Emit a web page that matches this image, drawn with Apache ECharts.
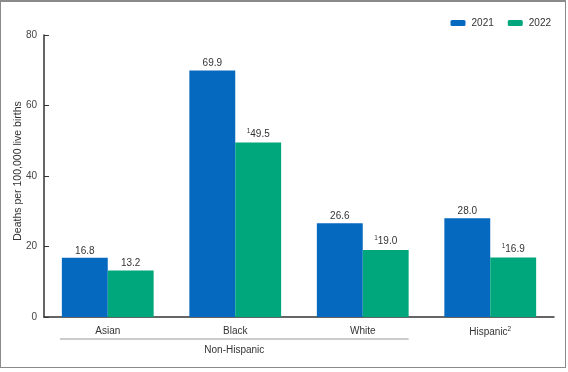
<!DOCTYPE html>
<html><head><meta charset="utf-8">
<script src="https://cdn.jsdelivr.net/npm/echarts@6/dist/echarts.min.js"></script>
<style>
html,body{margin:0;padding:0;background:#fff;}
#c{position:absolute;left:0;top:0;width:568px;height:372px;}
#frame{position:absolute;left:0;top:0;width:564px;height:365px;border:1px solid #8a8a8a;border-top:2px solid #8a8a8a;pointer-events:none;}
</style></head>
<body>
<div id="c"></div>
<div id="frame"></div>
<script>
const categories = ['Asian', 'Black', 'White', 'Hispanic'];
const values2021 = [16.8, 69.9, 26.6, 28.0];
const values2022 = [13.2, 49.5, 19.0, 16.9];
const flagged2022 = [false, true, true, true];
const yTicks = [0, 20, 40, 60, 80];
const groupLabel = 'Non-Hispanic';
const groupMembers = ['Asian', 'Black', 'White'];

const FONT = '"Liberation Sans", Arial, sans-serif';
const chart = echarts.init(document.getElementById('c'));
const option = {
  animation: false,
  textStyle: { fontFamily: FONT },
  legend: {
    right: 12, top: 13,
    itemWidth: 15, itemHeight: 6, itemGap: 14,
    textStyle: { fontSize: 10, color: '#333', fontFamily: FONT, padding: [0,0,0,1] },
    data: ['2021', '2022']
  },
  grid: { left: 44, right: 14, top: 35, bottom: 55 },
  xAxis: {
    type: 'category', data: categories,
    axisLine: { lineStyle: { color: '#333', width: 1.5 } },
    axisTick: { show: false },
    axisLabel: {
      fontSize: 10, color: '#333', margin: 9,
      formatter: v => v === 'Hispanic' ? v + '{sup|2}' : v,
      rich: { sup: { fontSize: 6.5, verticalAlign: 'top', padding: [0,0,6,0], color: '#333' } }
    }
  },
  yAxis: {
    type: 'value', min: yTicks[0], max: yTicks[yTicks.length-1], interval: 20,
    name: 'Deaths per 100,000 live births', nameLocation: 'middle', nameGap: 20,
    nameMoveOverlap: false,
    nameTextStyle: { fontSize: 10.5, color: '#333', fontFamily: FONT, padding: [0, 0, 0, 10] },
    axisLine: { show: true, lineStyle: { color: '#333', width: 1.5 } },
    axisTick: { show: true, inside: true, length: 5, lineStyle: { color: '#333' } },
    axisLabel: { fontSize: 10, color: '#444', margin: 7 },
    splitLine: { show: false }
  },
  series: [
    {
      name: '2021', type: 'bar', data: values2021, barGap: '0%', barCategoryGap: '28%',
      itemStyle: { color: '#0669c0' },
      label: { show: true, position: 'top', distance: 2, fontSize: 10, color: '#333',
        formatter: p => p.value.toFixed(1) }
    },
    {
      name: '2022', type: 'bar', data: values2022,
      itemStyle: { color: '#00a77d' },
      label: { show: true, position: 'top', distance: 2, fontSize: 10, color: '#333',
        formatter: p => (flagged2022[p.dataIndex] ? '{sup|1}' : '') + p.value.toFixed(1),
        rich: { sup: { fontSize: 6.5, verticalAlign: 'top', padding: [0,0,6,0], color: '#333' } } }
    }
  ]
};
chart.setOption(option);

// group bracket under Non-Hispanic categories
const first = chart.convertToPixel({ xAxisIndex: 0 }, groupMembers[0]);
const last = chart.convertToPixel({ xAxisIndex: 0 }, groupMembers[groupMembers.length-1]);
const band = chart.convertToPixel({ xAxisIndex: 0 }, categories[1]) - first;
const y0 = chart.convertToPixel({ yAxisIndex: 0 }, 0);
const x1 = first - band * 0.375, x2 = last + band * 0.36;
chart.setOption({
  graphic: [
    { type: 'line', shape: { x1: x1, y1: y0 + 22, x2: x2, y2: y0 + 22 }, style: { stroke: '#bbb', lineWidth: 1.5 } },
    { type: 'text', x: (x1 + x2) / 2, y: y0 + 28, style: { text: groupLabel, fontSize: 10, fill: '#333', align: 'center', fontFamily: FONT } }
  ]
});
</script>
</body></html>
